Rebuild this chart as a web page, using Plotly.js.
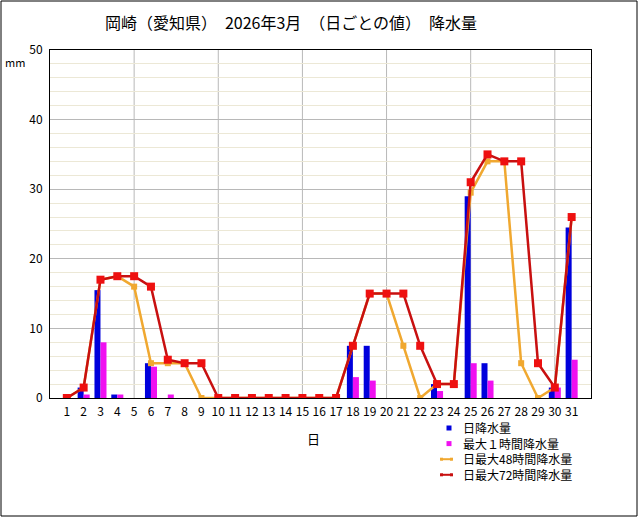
<!DOCTYPE html>
<html>
<head>
<meta charset="utf-8">
<script src="https://cdn.plot.ly/plotly-3.0.1.min.js"></script>
<style>
html,body{margin:0;padding:0;background:#fff;}
#chart{width:640px;height:527px;}
</style>
</head>
<body>
<div id="chart"></div>
<script>
// ---- data ----
const days = Array.from({length: 31}, (_, i) => i + 1);
const dayLabels = days.map(String);
const dailyPrecip = [0, 1.5, 15.5, 0.5, 0, 5.0, 0, 0, 0, 0, 0, 0, 0, 0, 0, 0, 0, 7.5, 7.5, 0, 0, 0, 2.0, 0, 29.0, 5.0, 0, 0, 0, 1.5, 24.5];
const max1h = [0, 0.5, 8.0, 0.5, 0, 4.5, 0.5, 0, 0, 0, 0, 0, 0, 0, 0, 0, 0, 3.0, 2.5, 0, 0, 0, 1.0, 0, 5.0, 2.5, 0, 0, 0, 1.5, 5.5];
const max48h = [0, 1.5, 17.0, 17.5, 16.0, 5.0, 5.0, 5.0, 0, 0, 0, 0, 0, 0, 0, 0, 0, 7.5, 15.0, 15.0, 7.5, 0, 2.0, 2.0, 29.5, 34.0, 34.0, 5.0, 0, 1.5, 26.0];
const max72h = [0, 1.5, 17.0, 17.5, 17.5, 16.0, 5.5, 5.0, 5.0, 0, 0, 0, 0, 0, 0, 0, 0, 7.5, 15.0, 15.0, 15.0, 7.5, 2.0, 2.0, 31.0, 35.0, 34.0, 34.0, 5.0, 1.5, 26.0];
const seriesNames = ["日降水量", "最大１時間降水量", "日最大48時間降水量", "日最大72時間降水量"];
const yTicks = [0, 10, 20, 30, 40, 50];
const vGridDays = [5, 10, 15, 20, 25, 30];
const titleText = "岡崎（愛知県）　2026年3月　（日ごとの値）　降水量";

// ---- layout geometry ----
const W = 640, H = 527;
const L = 50, R = 591, T = 50, B = 398;
const px = x => (x - L) / (R - L);
const py = y => (B - y) / (B - T);
const FONT = "Noto Sans CJK JP, Noto Sans, sans-serif";
const colors = {blue: "#0000dc", magenta: "#f010f0", orange: "#f0a830", redLine: "#c81010", redMk: "#ee1010"};

const traces = [
  {type: "bar", x: days, y: dailyPrecip, name: seriesNames[0], marker: {color: colors.blue}, showlegend: false, hoverinfo: "skip"},
  {type: "bar", x: days, y: max1h, name: seriesNames[1], marker: {color: colors.magenta}, showlegend: false, hoverinfo: "skip"},
  {type: "scatter", mode: "lines+markers", x: days, y: max48h, name: seriesNames[2],
   line: {color: colors.orange, width: 2.5}, marker: {symbol: "square", size: 6, color: colors.orange}, showlegend: false, hoverinfo: "skip"},
  {type: "scatter", mode: "lines+markers", x: days, y: max72h, name: seriesNames[3],
   line: {color: colors.redLine, width: 2.5}, marker: {symbol: "square", size: 8, color: colors.redMk}, showlegend: false, hoverinfo: "skip"}
];

const shapes = [];
vGridDays.forEach(d => shapes.push({type: "line", xref: "x", yref: "paper", x0: d, x1: d, y0: 0, y1: 1,
  line: {color: "#b8b8b8", width: 1}, layer: "below"}));
// outer frame
shapes.push({type: "rect", xref: "paper", yref: "paper", x0: px(1), x1: px(637), y0: py(516), y1: py(1),
  line: {color: "#000", width: 1}, fillcolor: "rgba(0,0,0,0)"});

// custom legend (one multi-line text block)
const legFs = 12, legStep = legFs * 1.3, legY0 = 428;
const legY = seriesNames.map((_, i) => legY0 + i * legStep);
shapes.push({type: "rect", xref: "paper", yref: "paper", x0: px(446.5), x1: px(451.5), y0: py(legY[0] + 2.5), y1: py(legY[0] - 2.5),
  line: {width: 0}, fillcolor: colors.blue});
shapes.push({type: "rect", xref: "paper", yref: "paper", x0: px(446.5), x1: px(451.5), y0: py(legY[1] + 2.5), y1: py(legY[1] - 2.5),
  line: {width: 0}, fillcolor: colors.magenta});
[[legY[2], colors.orange], [legY[3], colors.redLine]].forEach(([yy, c]) => {
  shapes.push({type: "line", xref: "paper", yref: "paper", x0: px(441), x1: px(452), y0: py(yy), y1: py(yy), line: {color: c, width: 2}});
  [441.5, 451.5].forEach(xx => shapes.push({type: "rect", xref: "paper", yref: "paper",
    x0: px(xx - 1.5), x1: px(xx + 1.5), y0: py(yy + 1.5), y1: py(yy - 1.5), line: {width: 0}, fillcolor: c}));
});

const annotations = [{
  text: seriesNames.join("<br>"), xref: "paper", yref: "paper", x: px(461), y: py((legY[0] + legY[3]) / 2),
  xanchor: "left", yanchor: "middle", align: "left",
  showarrow: false, font: {family: FONT, size: legFs, color: "#000"}
}];
annotations.push({text: "mm", xref: "paper", yref: "paper", x: px(15), y: py(62), xanchor: "center", yanchor: "middle",
  showarrow: false, font: {family: FONT, size: 11, color: "#000"}});
annotations.push({text: "日", xref: "paper", yref: "paper", x: px(313), y: py(438), xanchor: "center", yanchor: "middle",
  showarrow: false, font: {family: FONT, size: 13, color: "#000"}});

const layout = {
  width: W, height: H,
  margin: {l: L, r: W - R, t: T, b: H - B, pad: 0},
  paper_bgcolor: "#fff", plot_bgcolor: "#fff",
  title: {text: titleText, xref: "container", yref: "container", x: 291 / W, xanchor: "center",
    y: 1 - 23 / H, yanchor: "middle", font: {family: FONT, size: 16, color: "#000"}},
  barmode: "group", bargap: 0.285, bargroupgap: 0,
  xaxis: {range: [0, 32.15], tickmode: "array", tickvals: days, ticktext: dayLabels, showgrid: false, zeroline: false,
    showline: true, linecolor: "#000", linewidth: 1, mirror: true, ticks: "", ticklabelstandoff: 3,
    tickfont: {family: FONT, size: 12, color: "#000"}, fixedrange: true},
  yaxis: {range: [0, 50], tickmode: "array", tickvals: yTicks, showgrid: true, gridcolor: "#b8b8b8", gridwidth: 1,
    minor: {dtick: 2, showgrid: true, gridcolor: "#ece8d6", gridwidth: 1},
    zeroline: false, showline: true, linecolor: "#000", linewidth: 1, mirror: true, ticks: "", ticklabelstandoff: 4,
    tickfont: {family: FONT, size: 12, color: "#000"}, fixedrange: true},
  shapes: shapes,
  annotations: annotations,
  showlegend: false
};

Plotly.newPlot("chart", traces, layout, {displayModeBar: false, staticPlot: true});
</script>
</body>
</html>
